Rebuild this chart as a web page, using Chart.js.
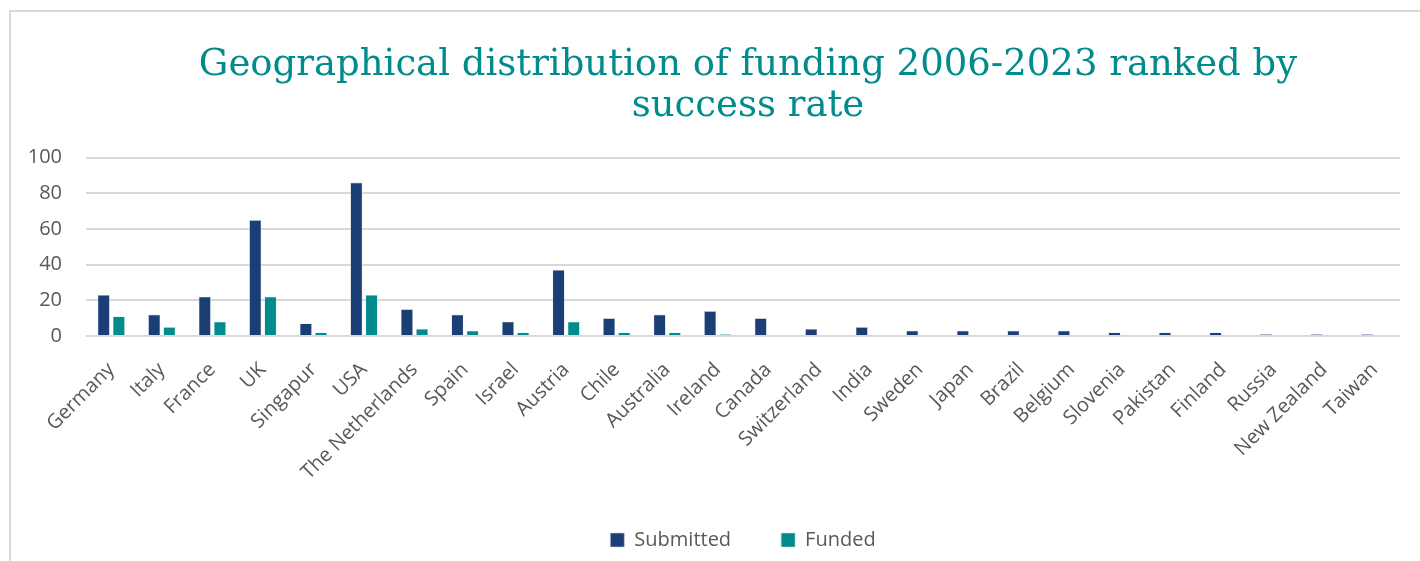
<!DOCTYPE html>
<html lang="en">
<head>
    <meta charset="UTF-8">
    <script src="https://cdn.jsdelivr.net/npm/chart.js"></script>
    <title>Geographical distribution of funding</title>
    <style>
        body { margin: 0; background: #fff; overflow: hidden; }
        .frame {
            position: absolute; left: 9px; top: 10px;
            width: 1480px; height: 560px;
            border-left: 2px solid #d9d9d9; border-top: 2px solid #d9d9d9;
        }
        canvas { display: block; }
    </style>
</head>
<body>
    <div class="frame">
        <canvas id="geoChart" width="1474" height="558"></canvas>
    </div>
    <script>
        // data
        const countries = ['Germany', 'Italy', 'France', 'UK', 'Singapur', 'USA', 'The Netherlands', 'Spain',
            'Israel', 'Austria', 'Chile', 'Australia', 'Ireland', 'Canada', 'Switzerland', 'India', 'Sweden',
            'Japan', 'Brazil', 'Belgium', 'Slovenia', 'Pakistan', 'Finland', 'Russia', 'New Zealand', 'Taiwan'];
        const submitted = [23, 12, 22, 65, 7, 86, 15, 12, 8, 37, 10, 12, 14, 10, 4, 5, 3, 3, 3, 3, 2, 2, 2, 1, 1, 1];
        const funded = [11, 5, 8, 22, 2, 23, 4, 3, 2, 8, 2, 2, 1, 0, 0, 0, 0, 0, 0, 0, 0, 0, 0, 0, 0, 0];
        const yTicks = [0, 20, 40, 60, 80, 100];

        const gray = '#595959';
        const sans = '"Open Sans", "Noto Sans", sans-serif';

        new Chart(document.getElementById('geoChart'), {
            type: 'bar',
            data: {
                labels: countries,
                datasets: [
                    { label: 'Submitted', data: submitted, backgroundColor: '#1b3f75', borderColor: '#c9d3e3', borderWidth: 0.6 },
                    { label: 'Funded', data: funded, backgroundColor: '#008b8c', borderColor: '#c4e3e3', borderWidth: 0.6 }
                ]
            },
            options: {
                responsive: false,
                animation: false,
                barPercentage: 0.8,
                categoryPercentage: 0.6,
                layout: { padding: { left: 0, right: 0, top: 0, bottom: 10 } },
                plugins: {
                    title: {
                        display: true,
                        text: ['Geographical distribution of funding 2006-2023 ranked by', 'success rate'],
                        color: '#008b8c',
                        font: { family: '"DejaVu Serif", serif', size: 37, weight: 'normal', lineHeight: 1.13 },
                        padding: { top: 32, bottom: 30 }
                    },
                    legend: {
                        position: 'bottom',
                        fullSize: false,
                        labels: {
                            color: gray,
                            font: { family: sans, size: 20 },
                            boxWidth: 14,
                            boxHeight: 14,
                            padding: 50
                        }
                    },
                    tooltip: { enabled: false }
                },
                scales: {
                    x: {
                        afterFit: function (scale) { scale.height = 144; },
                        grid: { display: false },
                        border: { display: false },
                        ticks: { color: gray, font: { family: sans, size: 20 }, maxRotation: 45, minRotation: 45, autoSkip: false, padding: 14 }
                    },
                    y: {
                        min: 0,
                        max: 100,
                        afterFit: function (scale) { scale.width = 75; },
                        afterBuildTicks: function (scale) { scale.ticks = yTicks.map(v => ({ value: v })); },
                        grid: { color: '#d9d9d9', lineWidth: 2, drawTicks: false },
                        border: { display: false },
                        ticks: { color: gray, font: { family: sans, size: 20 }, padding: 24 }
                    },
                    // empty right-hand axis, only reserves the space right of the plot
                    yRight: {
                        type: 'linear',
                        position: 'right',
                        afterFit: function (scale) { scale.width = 85; },
                        grid: { display: false },
                        border: { display: false },
                        ticks: { display: false }
                    }
                }
            }
        });
    </script>
</body>
</html>
